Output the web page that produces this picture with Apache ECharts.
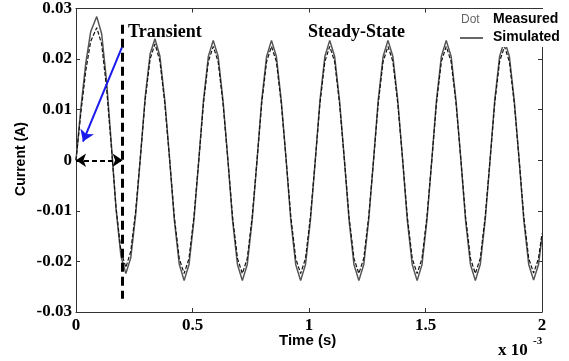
<!DOCTYPE html>
<html>
<head>
<meta charset="utf-8">
<script src="https://cdn.jsdelivr.net/npm/echarts@6/dist/echarts.min.js"></script>
<style>
  html, body { margin: 0; padding: 0; background: #fff; }
  #chart { width: 569px; height: 361px; }
</style>
</head>
<body>
<div id="chart"></div>
<script>
// time in ms (axis shows x 10^-3 s)
const time = [
  0, 0.021, 0.042, 0.063,
  0.089, 0.110, 0.131, 0.152, 0.172, 0.193, 0.214, 0.235, 0.256, 0.277, 0.297, 0.318,
  0.339, 0.360, 0.381, 0.402, 0.422, 0.443, 0.464, 0.485, 0.506, 0.527, 0.547, 0.568,
  0.589, 0.610, 0.631, 0.652, 0.672, 0.693, 0.714, 0.735, 0.756, 0.777, 0.797, 0.818,
  0.839, 0.860, 0.881, 0.902, 0.922, 0.943, 0.964, 0.985, 1.006, 1.027, 1.047, 1.068,
  1.089, 1.110, 1.131, 1.152, 1.172, 1.193, 1.214, 1.235, 1.256, 1.277, 1.297, 1.318,
  1.339, 1.360, 1.381, 1.402, 1.422, 1.443, 1.464, 1.485, 1.506, 1.527, 1.547, 1.568,
  1.589, 1.610, 1.631, 1.652, 1.672, 1.693, 1.714, 1.735, 1.756, 1.777, 1.797, 1.818,
  1.839, 1.860, 1.881, 1.902, 1.922, 1.943, 1.964, 1.985, 2.000
];

const simulated = [
  0, 0.0103, 0.0192, 0.0254,
  0.0284, 0.0250, 0.0157, 0.0030, -0.0097, -0.0190, -0.0224, -0.0193, -0.0108, 0.0009, 0.0125, 0.0210,
  0.0240, 0.0206, 0.0119, 0.0001, -0.0118, -0.0205, -0.0238, -0.0206, -0.0119, 0.0000, 0.0118, 0.0205,
  0.0237, 0.0205, 0.0118, 0.0000, -0.0119, -0.0206, -0.0238, -0.0206, -0.0119, 0.0000, 0.0118, 0.0205,
  0.0237, 0.0205, 0.0118, 0.0000, -0.0119, -0.0206, -0.0238, -0.0206, -0.0119, 0.0000, 0.0118, 0.0205,
  0.0237, 0.0205, 0.0118, 0.0000, -0.0119, -0.0206, -0.0238, -0.0206, -0.0119, 0.0000, 0.0118, 0.0205,
  0.0237, 0.0205, 0.0118, 0.0000, -0.0119, -0.0206, -0.0238, -0.0206, -0.0119, 0.0000, 0.0118, 0.0205,
  0.0237, 0.0205, 0.0118, 0.0000, -0.0119, -0.0206, -0.0238, -0.0206, -0.0119, 0.0000, 0.0118, 0.0205,
  0.0237, 0.0205, 0.0118, 0.0000, -0.0119, -0.0206, -0.0237, -0.0206, -0.0152
];

const measured = [
  0, 0.0094, 0.0177, 0.0235,
  0.0262, 0.0230, 0.0144, 0.0025, -0.0094, -0.0180, -0.0212, -0.0180, -0.0100, 0.0010, 0.0120, 0.0200,
  0.0230, 0.0196, 0.0113, 0.0001, -0.0112, -0.0194, -0.0224, -0.0194, -0.0112, 0.0000, 0.0112, 0.0195,
  0.0225, 0.0195, 0.0112, 0.0000, -0.0112, -0.0194, -0.0224, -0.0194, -0.0112, 0.0000, 0.0112, 0.0195,
  0.0225, 0.0195, 0.0112, 0.0000, -0.0112, -0.0194, -0.0224, -0.0194, -0.0112, 0.0000, 0.0112, 0.0195,
  0.0225, 0.0195, 0.0112, 0.0000, -0.0112, -0.0194, -0.0224, -0.0194, -0.0112, 0.0000, 0.0112, 0.0195,
  0.0225, 0.0195, 0.0112, 0.0000, -0.0112, -0.0194, -0.0224, -0.0194, -0.0112, 0.0000, 0.0112, 0.0195,
  0.0225, 0.0195, 0.0112, 0.0000, -0.0112, -0.0194, -0.0224, -0.0194, -0.0112, 0.0000, 0.0112, 0.0195,
  0.0225, 0.0195, 0.0112, 0.0000, -0.0112, -0.0194, -0.0223, -0.0194, -0.0145
];

const xTicks = { min: 0, max: 2, interval: 0.5 };
const yTicks = { min: -0.03, max: 0.03, interval: 0.01 };

const chart = echarts.init(document.getElementById("chart"), null, { renderer: "canvas" });

const serif = "'Liberation Serif', 'Times New Roman', serif";
const sans = "'Liberation Sans', Arial, sans-serif";
const frame = "#333";

const axisBase = {
  type: "value",
  axisLine: { show: true, onZero: false, lineStyle: { color: frame, width: 1 } },
  axisTick: { show: true, inside: true, length: 4, lineStyle: { color: frame } },
  splitLine: { show: false },
};

chart.setOption({
  animation: false,
  backgroundColor: "#fff",
  grid: { left: 76, right: 27, top: 8, bottom: 49 },
  xAxis: [
    {
      ...axisBase,
      ...xTicks,
      position: "bottom",
      axisLabel: {
        color: "#000",
        fontFamily: serif,
        fontWeight: "bold",
        fontSize: 17,
        margin: 5,
        formatter: (v) => String(v),
      },
    },
    { ...axisBase, ...xTicks, position: "top", axisLabel: { show: false } },
  ],
  yAxis: [
    {
      ...axisBase,
      ...yTicks,
      position: "left",
      axisLabel: {
        color: "#000",
        fontFamily: serif,
        fontWeight: "bold",
        fontSize: 17,
        margin: 4,
        formatter: (v) => (Math.abs(v) < 1e-9 ? "0" : v.toFixed(2)),
      },
    },
    { ...axisBase, ...yTicks, position: "right", axisLabel: { show: false } },
  ],
  series: [
    {
      name: "Simulated",
      type: "line",
      showSymbol: false,
      data: time.map((t, i) => [t, simulated[i]]),
      lineStyle: { color: "#555", width: 1.5 },
      z: 2,
    },
    {
      name: "Measured",
      type: "line",
      showSymbol: false,
      data: time.map((t, i) => [t, measured[i]]),
      lineStyle: { color: "#111", width: 1.2, type: [4, 2] },
      z: 3,
      markLine: {
        silent: true,
        label: { show: false },
        data: [
          [
            { coord: [0.2, 0.0268], symbol: "none", lineStyle: { color: "#000", width: 3, type: [9, 5] } },
            { coord: [0.2, -0.0274], symbol: "none" },
          ],
          [
            { coord: [0, 0], symbol: "arrow", symbolSize: 10, lineStyle: { color: "#000", width: 2, type: [5, 3] } },
            { coord: [0.2, 0], symbol: "arrow", symbolSize: 10 },
          ],
          [
            { coord: [0.197, 0.0223], symbol: "none", lineStyle: { color: "#1a1aee", width: 2, type: "solid" } },
            { coord: [0.03, 0.0037], symbol: "arrow", symbolSize: 11 },
          ],
        ],
      },
    },
  ],
  graphic: [
    // legend box
    { type: "rect", left: 455, top: 9, shape: { width: 114, height: 38 }, style: { fill: "#fff" }, z: 100 },
    { type: "text", left: 461, top: 14, style: { text: "Dot", fill: "#666", font: "12px " + sans }, z: 101 },
    { type: "text", left: 493, top: 12, style: { text: "Measured", fill: "#000", font: "bold 14px " + sans }, z: 101 },
    { type: "line", shape: { x1: 460, y1: 38, x2: 483, y2: 38 }, style: { stroke: "#666", lineWidth: 2 }, z: 101 },
    { type: "text", left: 493, top: 30, style: { text: "Simulated", fill: "#000", font: "bold 14px " + sans }, z: 101 },
    // annotations
    { type: "text", left: 128, top: 23, style: { text: "Transient", fill: "#000", font: "bold 18px " + serif }, z: 50 },
    { type: "text", left: 308, top: 23, style: { text: "Steady-State", fill: "#000", font: "bold 18px " + serif }, z: 50 },
    // axis titles
    { type: "text", left: 279, top: 333, style: { text: "Time (s)", fill: "#000", font: "bold 15px " + sans } },
    {
      type: "text",
      x: 21,
      y: 159,
      rotation: Math.PI / 2,
      style: { text: "Current (A)", fill: "#000", font: "bold 14px " + sans, align: "center", verticalAlign: "middle" },
    },
    { type: "text", left: 498, top: 342, style: { text: "x 10", fill: "#000", font: "bold 17px " + serif } },
    { type: "text", left: 533, top: 336, style: { text: "-3", fill: "#000", font: "bold 11px " + serif } },
  ],
});
</script>
</body>
</html>
